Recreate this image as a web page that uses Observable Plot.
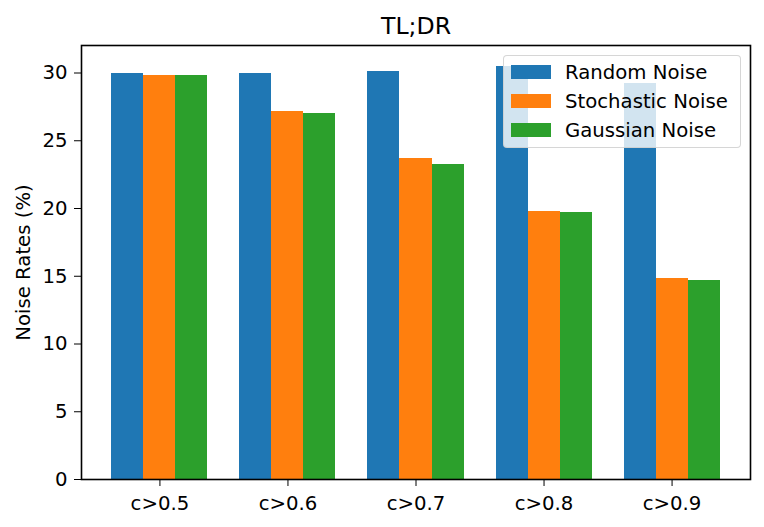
<!DOCTYPE html>
<html>
<head>
<meta charset="utf-8">
<script src="https://cdn.jsdelivr.net/npm/d3@7"></script>
<script src="https://cdn.jsdelivr.net/npm/@observablehq/plot@0.6"></script>
<style>
  html, body { margin: 0; padding: 0; background: white; }
  #wrap { position: relative; width: 764px; height: 527px; font-family: "DejaVu Sans", sans-serif; }
  #legend { position: absolute; left: 503px; top: 55px; width: 236px; height: 91px;
    background: rgba(255,255,255,0.8); border: 1.5px solid rgba(204,204,204,0.8); border-radius: 4px; }
  .row { position: absolute; left: 0; height: 29px; display: flex; align-items: center; }
  .sw { width: 40px; height: 13.5px; margin-left: 7px; margin-right: 14px; }
  .lab { font-size: 19.7px; color: black; white-space: nowrap; line-height: 29px; }
</style>
</head>
<body>
<div id="wrap"></div>
<script>
const categories = ["c>0.5", "c>0.6", "c>0.7", "c>0.8", "c>0.9"];
const seriesNames = ["Random Noise", "Stochastic Noise", "Gaussian Noise"];
const randomNoise = [29.95, 29.95, 30.1, 30.5, 29.2];
const stochasticNoise = [29.85, 27.15, 23.7, 19.8, 14.85];
const gaussianNoise = [29.8, 27.0, 23.25, 19.7, 14.7];
const colors = ["#1f77b4", "#ff7f0e", "#2ca02c"];
const yTicks = [0, 5, 10, 15, 20, 25, 30];
const title = "TL;DR";
const yLabel = "Noise Rates (%)";

const seriesValues = [randomNoise, stochasticNoise, gaussianNoise];
const barWidth = 0.25;
const rows = [];
categories.forEach((c, i) => {
  seriesNames.forEach((s, j) => {
    rows.push({cat: c, i, series: s, j, value: seriesValues[j][i]});
  });
});
const xMin = -1.5 * barWidth - 0.05 * (categories.length - 1 + 3 * barWidth);
const xMax = categories.length - 1 + 1.5 * barWidth + 0.05 * (categories.length - 1 + 3 * barWidth);

const chart = Plot.plot({
  width: 764,
  height: 527,
  marginLeft: 81,
  marginRight: 14,
  marginTop: 45,
  marginBottom: 48,
  style: {fontFamily: "DejaVu Sans", fontSize: "19.7px", background: "white", color: "black"},
  x: {
    type: "linear",
    domain: [xMin, xMax],
    ticks: categories.map((c, i) => i),
    tickFormat: i => categories[i],
    tickSize: 7,
    tickPadding: 9,
    label: null
  },
  y: {
    domain: [0, 32.03],
    ticks: yTicks,
    tickSize: 7,
    tickPadding: 7,
    label: null
  },
  color: {domain: seriesNames, range: colors},
  marks: [
    Plot.rect(rows, {
      x1: d => d.i + (d.j - 1) * barWidth - barWidth / 2,
      x2: d => d.i + (d.j - 1) * barWidth + barWidth / 2,
      y1: d => 0,
      y2: "value",
      fill: "series",
      shapeRendering: "crispEdges"
    }),
    Plot.frame({stroke: "black", strokeWidth: 1.6}),
    Plot.text([title], {frameAnchor: "top", dy: -19.5, text: d => d, fontSize: 23.6, lineAnchor: "middle", fill: "black"}),
    Plot.text([yLabel], {frameAnchor: "left", dx: -58, rotate: -90, text: d => d, fontSize: 19.7, lineAnchor: "middle", textAnchor: "middle", fill: "black"})
  ]
});

const wrap = document.getElementById("wrap");
wrap.appendChild(chart);

const legend = document.createElement("div");
legend.id = "legend";
seriesNames.forEach((s, j) => {
  const row = document.createElement("div");
  row.className = "row";
  row.style.top = (1.5 + j * 29) + "px";
  const sw = document.createElement("div");
  sw.className = "sw";
  sw.style.background = colors[j];
  const lab = document.createElement("span");
  lab.className = "lab";
  lab.textContent = s;
  row.appendChild(sw);
  row.appendChild(lab);
  legend.appendChild(row);
});
wrap.appendChild(legend);
</script>
</body>
</html>
